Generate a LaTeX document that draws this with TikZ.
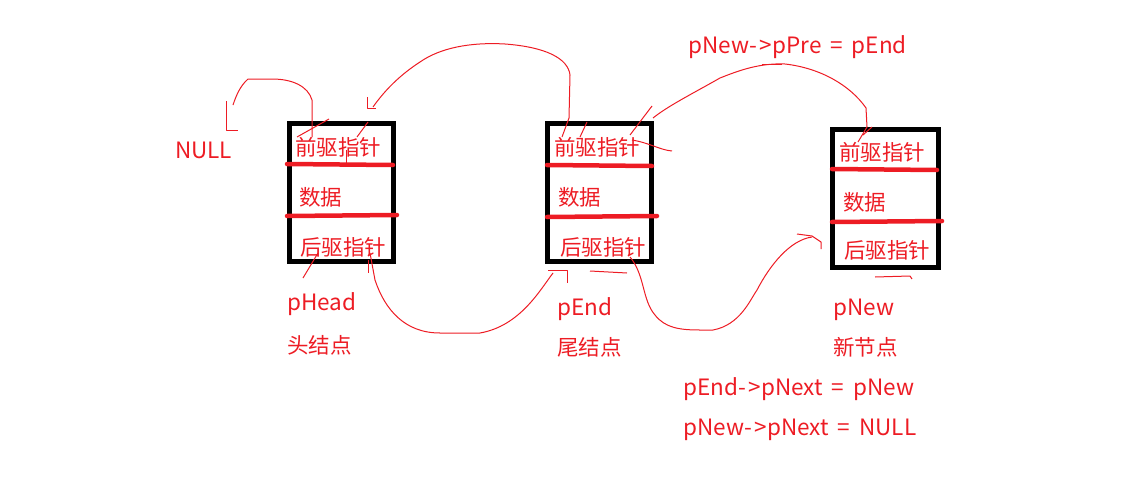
\documentclass[tikz,border=0pt]{standalone}
\usepackage{fontspec}
\setmainfont{Noto Sans CJK SC}
\definecolor{pred}{HTML}{ED1C24}
\newcommand{\wsp}{\hspace{9pt}}
\newcommand{\arr}{-\hspace{3pt}>}
\tikzset{
  box/.style={draw=black, line width=4.5pt, minimum width=104pt, anchor=north west, inner sep=0pt},
  sepline/.style={draw=pred, line width=4.5pt, line cap=round},
  lbl/.style={text=pred, anchor=west, inner sep=0pt, font=\fontsize{21.5}{25}\selectfont},
  blbl/.style={lbl, anchor=base west, font=\fontsize{22.5}{26}\selectfont},
  wire/.style={draw=pred, line width=1pt, line join=round}
}
\begin{document}
\begin{tikzpicture}[x=1pt,y=-1pt]
\useasboundingbox (0,0) rectangle (1142,479);
% boxes
\node[box, minimum height=138pt] (b1) at (287,121) {};
\node[box, minimum height=138pt] (b2) at (545,121) {};
\node[box, minimum height=138pt, minimum width=106pt] (b3) at (830,127) {};
% separators
\draw[sepline] (287,164) -- (393,165);
\draw[sepline] (287,216) -- (397,215);
\draw[sepline] (547,165) -- (652,166);
\draw[sepline] (547,217) -- (657,216);
\draw[sepline] (832,169) -- (937,170);
\draw[sepline] (832,222) -- (942,221);
% box texts
\node[lbl] (b1p) at (295,147) {前驱指针};
\node[lbl] (b1d) at (299,197) {数据};
\node[lbl] (b1n) at (300,247) {后驱指针};
\node[lbl] (b2p) at (554,147) {前驱指针};
\node[lbl] (b2d) at (558,197) {数据};
\node[lbl] (b2n) at (560,247) {后驱指针};
\node[lbl] (b3p) at (839,152) {前驱指针};
\node[lbl] (b3d) at (843,202) {数据};
\node[lbl] (b3n) at (844,250) {后驱指针};
% labels
\node[blbl] (null) at (175,158) {NULL};
\node[blbl] (phead) at (287,310) {pHead};
\node[lbl] (headcn) at (287,345) {头结点};
\node[blbl] (pend) at (557,315) {pEnd};
\node[lbl] (endcn) at (557,347) {尾结点};
\node[blbl] (pnew) at (833,315) {pNew};
\node[lbl] (newcn) at (833,347) {新节点};
\node[blbl] (eq1) at (688,53) {pNew\arr pPre\wsp=\wsp pEnd};
\node[blbl] (eq2) at (683,395) {pEnd\arr pNext\wsp=\wsp pNew};
\node[blbl] (eq3) at (683,435) {pNew\arr pNext\wsp=\wsp NULL};
% coordinates for wire ends
\coordinate (c1s) at (312,137);
\coordinate (c1e) at (233,105);
\coordinate (c2s) at (562,137);
\coordinate (c2e) at (373,107);
\coordinate (c3s) at (370,253);
\coordinate (c3e) at (553,273);
\coordinate (c4s) at (630,257);
\coordinate (c4e) at (812,237);
\coordinate (c5s) at (653,118);
\coordinate (c5e) at (858,142);
% wire 1: head prev -> NULL
\draw[wire] (c1s) -- (312,100) .. controls (308,86) and (292,79) .. (272,79) -- (248,79) .. controls (240,86) and (236,96) .. (c1e);
\draw[wire] (226,101) -- (226,130) -- (238,130);
% wire 2: end prev -> head
\draw[wire] (c2s) -- (569,118) -- (570,75) .. controls (568,58) and (545,47) .. (505,44) .. controls (470,42) and (440,48) .. (420,62) .. controls (400,75) and (385,90) .. (c2e);
\draw[wire] (367,97) -- (367,108) -- (376,108);
% wire 3: head next -> end
\draw[wire] (c3s) -- (375,280) .. controls (385,310) and (405,333) .. (440,333) -- (480,333) .. controls (520,326) and (540,290) .. (c3e);
\draw[wire] (548,270) -- (567,270) -- (567,283);
% wire 4: end next -> new
\draw[wire] (c4s) .. controls (645,275) and (642,300) .. (655,315) .. controls (665,328) and (680,330) .. (700,330) -- (713,330) .. controls (740,325) and (750,300) .. (757,290) .. controls (770,265) and (790,240) .. (c4e);
\draw[wire] (797,234) -- (812,236) -- (821,242) -- (821,249);
% wire 5: new prev -> end
\draw[wire] (c5s) .. controls (668,106) and (690,95) .. (720,78) .. controls (740,70) and (760,63) .. (785,64) .. controls (820,68) and (850,85) .. (866,108) -- (867,127) -- (c5e);
\draw[wire] (872,127) -- (863,135);
% small strokes
\draw[wire] (297,137) -- (329,119);
\draw[wire] (357,137) -- (368,122);
\draw[wire] (346,150) -- (346,165);
\draw[wire] (303,278) -- (318,253);
\draw[wire] (368,260) -- (368,273);
\draw[wire] (590,271) -- (627,273);
\draw[wire] (580,137) -- (587,122);
\draw[wire] (630,135) -- (652,106);
\draw[wire] (632,140) .. controls (650,143) and (660,150) .. (672,151);
\draw[wire] (875,277) -- (910,276) -- (912,279);
\draw[wire] (762,64) -- (782,64);
\end{tikzpicture}
\end{document}
